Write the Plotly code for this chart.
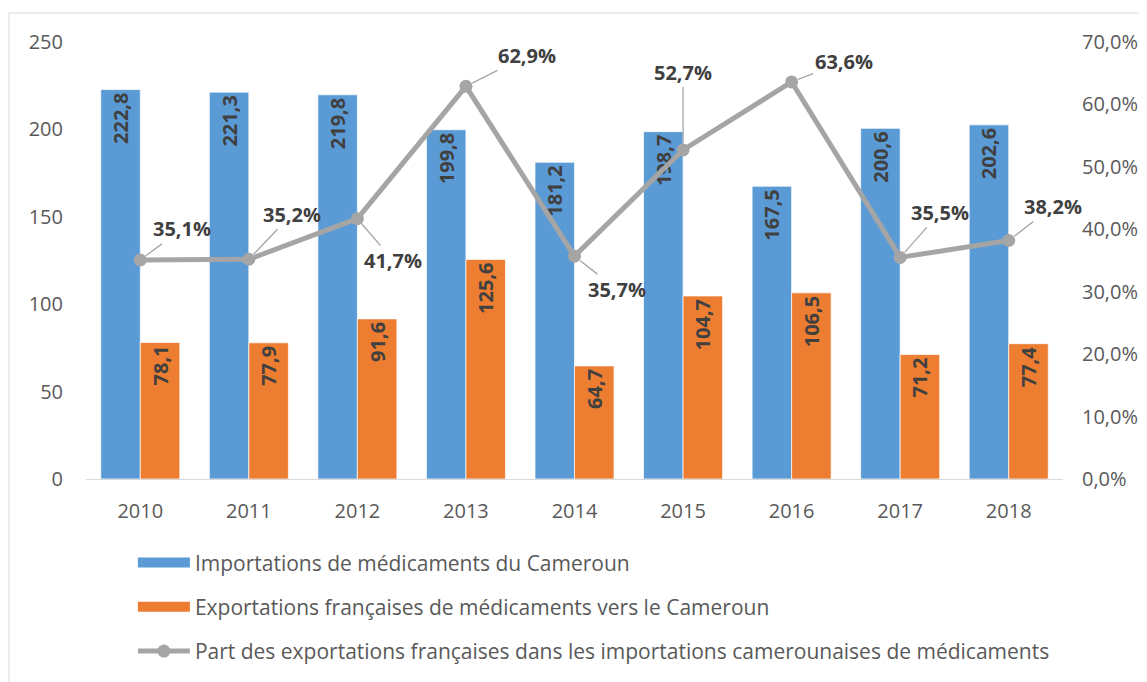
import plotly.graph_objects as go

years = [2010, 2011, 2012, 2013, 2014, 2015, 2016, 2017, 2018]
imports_cm = [222.8, 221.3, 219.8, 199.8, 181.2, 198.7, 167.5, 200.6, 202.6]
exports_fr = [78.1, 77.9, 91.6, 125.6, 64.7, 104.7, 106.5, 71.2, 77.4]
share_pct = [35.1, 35.2, 41.7, 62.9, 35.7, 52.7, 63.6, 35.5, 38.2]

y_ticks = [0, 50, 100, 150, 200, 250]
y2_ticks = [0, 10, 20, 30, 40, 50, 60, 70]

name_imp = "Importations de médicaments du Cameroun"
name_exp = "Exportations françaises de médicaments vers le Cameroun"
name_share = "Part des exportations françaises dans les importations camerounaises de médicaments"

# label offsets (pixels) for line data labels
label_dx = [42, 43, 36, 61, 42, 0, 52, 40, 44]
label_dy = [-31, -45, 42, -31, 33, -78, -20, -45, -34]

BLUE = "#5B9BD5"
ORANGE = "#ED7D31"
GREY = "#A5A5A5"


def fr(v, suffix=""):
    return f"{v:.1f}".replace(".", ",") + suffix


FONT = "Open Sans"
TXT = "#595959"
LBL = "#404040"

fig = go.Figure()
fig.add_trace(go.Bar(
    x=years, y=imports_cm, name=name_imp, showlegend=False,
    marker=dict(color=BLUE, line=dict(color="rgba(255,255,255,0.7)", width=1)),
    text=[fr(v) for v in imports_cm], textposition="inside", insidetextanchor="end",
    textangle=-90, insidetextfont=dict(family=FONT, size=20, color=LBL, weight="bold"),
))
fig.add_trace(go.Bar(
    x=years, y=exports_fr, name=name_exp, showlegend=False,
    marker=dict(color=ORANGE, line=dict(color="rgba(255,255,255,0.7)", width=1)),
    text=[fr(v) for v in exports_fr], textposition="inside", insidetextanchor="end",
    textangle=-90, insidetextfont=dict(family=FONT, size=20, color=LBL, weight="bold"),
))
fig.add_trace(go.Scatter(
    x=years, y=share_pct, name=name_share, legendgroup="c", legendrank=3,
    yaxis="y2", mode="lines+markers",
    line=dict(color=GREY, width=5),
    marker=dict(color=GREY, size=13),
))
# legend entries for the bar series (wide rectangular swatches as in the reference)
fig.add_trace(go.Scatter(
    x=[None], y=[None], name=name_imp, legendgroup="a", legendrank=1,
    mode="lines", line=dict(color=BLUE, width=14),
))
fig.add_trace(go.Scatter(
    x=[None], y=[None], name=name_exp, legendgroup="b", legendrank=2,
    mode="lines", line=dict(color=ORANGE, width=14),
))

annotations = []
for yr, v, dx, dy in zip(years, share_pct, label_dx, label_dy):
    annotations.append(dict(
        x=yr, y=v, xref="x", yref="y2",
        text="<b>" + fr(v, "%") + "</b>",
        showarrow=True, arrowhead=0, arrowwidth=1.3, arrowcolor=GREY,
        ax=dx, ay=dy, standoff=7,
        font=dict(family=FONT, size=20, color=LBL),
    ))

fig.update_layout(
    width=1139, height=674,
    margin=dict(l=78, r=84, t=34, b=203, autoexpand=False),
    paper_bgcolor="white", plot_bgcolor="white",
    font=dict(family=FONT, size=20, color=TXT),
    barmode="group", bargap=0.272, bargroupgap=0,
    xaxis=dict(
        type="linear", range=[years[0] - 0.5, years[-1] + 0.5],
        tickvals=years, ticktext=[str(y) for y in years],
        showgrid=False, zeroline=False, showline=True, linecolor="#D9D9D9",
        linewidth=1, ticks="", tickfont=dict(size=20, color=TXT),
        ticklabelstandoff=14, automargin=False,
    ),
    yaxis=dict(
        range=[0, 250], tickvals=y_ticks, ticktext=[str(t) for t in y_ticks],
        showgrid=False, zeroline=False, showline=False, automargin=False,
        tickfont=dict(size=20, color=TXT), ticklabelstandoff=22,
    ),
    yaxis2=dict(
        range=[0, 70], tickvals=y2_ticks, ticktext=[fr(t, "%") for t in y2_ticks],
        overlaying="y", side="right", showgrid=False, automargin=False,
        zeroline=False, showline=False,
        tickfont=dict(size=20, color=TXT), ticklabelstandoff=18,
    ),
    showlegend=True,
    legend=dict(
        orientation="v", x=0.048, xanchor="left", y=-0.145, yanchor="top",
        font=dict(family=FONT, size=21, color=TXT), tracegroupgap=14,
        itemwidth=52, bgcolor="rgba(0,0,0,0)",
    ),
    annotations=annotations,
    shapes=[dict(
        type="rect", xref="paper", yref="paper",
        x0=-0.0788, x1=1.2, y0=-0.6, y1=1.0664,
        line=dict(color="#D9D9D9", width=1), fillcolor="rgba(0,0,0,0)", layer="below",
    )],
)

fig.write_html("out.html")
